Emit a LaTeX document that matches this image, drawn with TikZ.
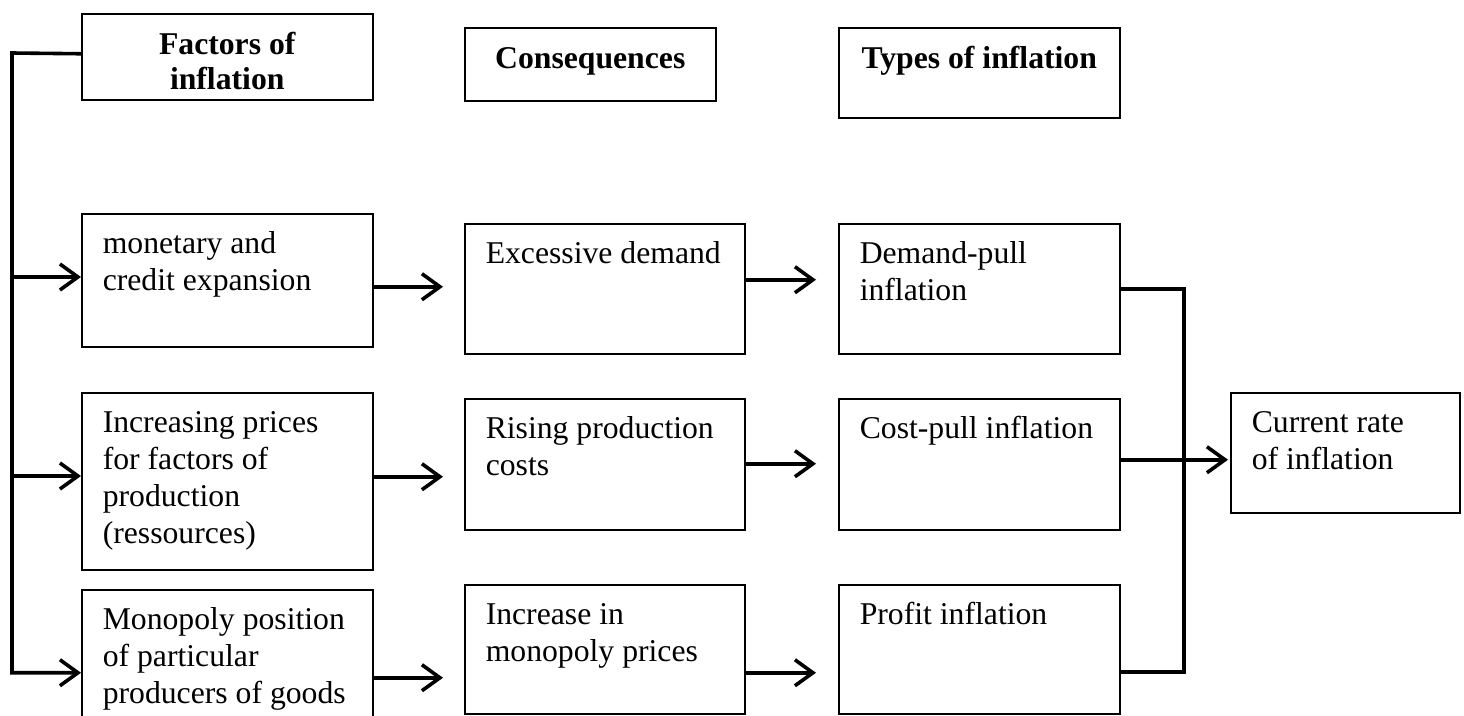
\documentclass[tikz,border=0pt]{standalone}
\usepackage{fontspec}
\setmainfont{Liberation Serif}
\usetikzlibrary{arrows.meta,calc}
\newcommand\bodytxt[3]{\parbox[t][#1][t]{#2}{\rule{0pt}{25.9pt}\begin{tabular}[t]{@{}l@{}}#3\end{tabular}}}
\newcommand\headtxt[3]{\parbox[t][#1][t]{#2}{\centering\bfseries\fontsize{31.7pt}{35pt}\selectfont\rule{0pt}{27.4pt}\begin{tabular}[t]{@{}c@{}}#3\end{tabular}}}
\tikzset{
  box/.style={draw, line width=1.5pt, rectangle, inner xsep=21pt, inner ysep=13.6pt,
    anchor=north west, font=\fontsize{31.7pt}{37pt}\selectfont},
  headbox/.style={box, inner xsep=5pt},
  conn/.style={line width=3.6pt},
  arr/.style={conn, -{Straight Barb[length=18pt,width=26pt]}},
}
\begin{document}
\begin{tikzpicture}[x=1pt,y=-1pt]
\path[use as bounding box] (0,0) rectangle (1464,715);
% header row
\node[headbox] (F) at (81,13) {\headtxt{58.8pt}{281pt}{Factors of\\inflation}};
\node[headbox] (C) at (464,27) {\headtxt{45.8pt}{241pt}{Consequences}};
\node[headbox] (T) at (838,27) {\headtxt{62.8pt}{271pt}{Types of inflation}};
% row 1
\node[box] (M1) at (81,213) {\bodytxt{105.8pt}{249pt}{monetary and\\credit expansion}};
\node[box] (E) at (464,223) {\bodytxt{102.8pt}{238pt}{Excessive demand}};
\node[box] (D) at (838,223) {\bodytxt{102.8pt}{239pt}{Demand-pull\\inflation}};
% row 2
\node[box] (M2) at (81,392) {\bodytxt{149.8pt}{249pt}{Increasing prices\\for factors of\\production\\(ressources)}};
\node[box] (R) at (464,398) {\bodytxt{103.8pt}{238pt}{Rising production\\costs}};
\node[box] (P) at (838,398) {\bodytxt{103.8pt}{239pt}{Cost-pull inflation}};
% row 3
\node[box] (M3) at (81,589) {\bodytxt{138.8pt}{249pt}{Monopoly position\\of particular\\producers of goods}};
\node[box] (I) at (464,584) {\bodytxt{101.8pt}{238pt}{Increase in\\monopoly prices}};
\node[box] (Pf) at (838,584) {\bodytxt{101.8pt}{239pt}{Profit inflation}};
% result
\node[box] (Cur) at (1230,392) {\bodytxt{92.8pt}{187pt}{Current rate\\of inflation}};
% left spine
\coordinate (spT) at (12,53);
\coordinate (s1) at (12,277);
\coordinate (s2) at (12,476);
\draw[arr] ([yshift=3pt]F.west) -- (spT) |- (M3.west);
\draw[arr] (s1) -- (s1 -| M1.west);
\draw[arr] (s2) -- (s2 -| M2.west);
% factors -> consequences
\coordinate (a1) at ($(M1.east)+(0,6.5)$);
\coordinate (a2) at ($(M2.east)+(0,-4.5)$);
\coordinate (a3) at ($(M3.east)+(0,5)$);
\draw[arr, shorten >=21pt] (a1) -- (a1 -| E.west);
\draw[arr, shorten >=21pt] (a2) -- (a2 -| R.west);
\draw[arr, shorten >=21pt] (a3) -- (a3 -| I.west);
% consequences -> types
\coordinate (b1) at ($(E.east)+(0,-9)$);
\coordinate (b2) at ($(R.east)+(0,-0.5)$);
\coordinate (b3) at ($(I.east)+(0,23.5)$);
\draw[arr, shorten >=22pt] (b1) -- (b1 -| D.west);
\draw[arr, shorten >=22pt] (b2) -- (b2 -| P.west);
\draw[arr, shorten >=22pt] (b3) -- (b3 -| Pf.west);
% bracket to current rate
\coordinate (br) at (1184,672);
\draw[conn] (D.east) -| (br) -- (br -| Pf.east);
\coordinate (c1) at ($(P.east)+(0,-4.5)$);
\draw[arr, shorten >=2pt] (c1) -- (c1 -| Cur.west);
\end{tikzpicture}
\end{document}
